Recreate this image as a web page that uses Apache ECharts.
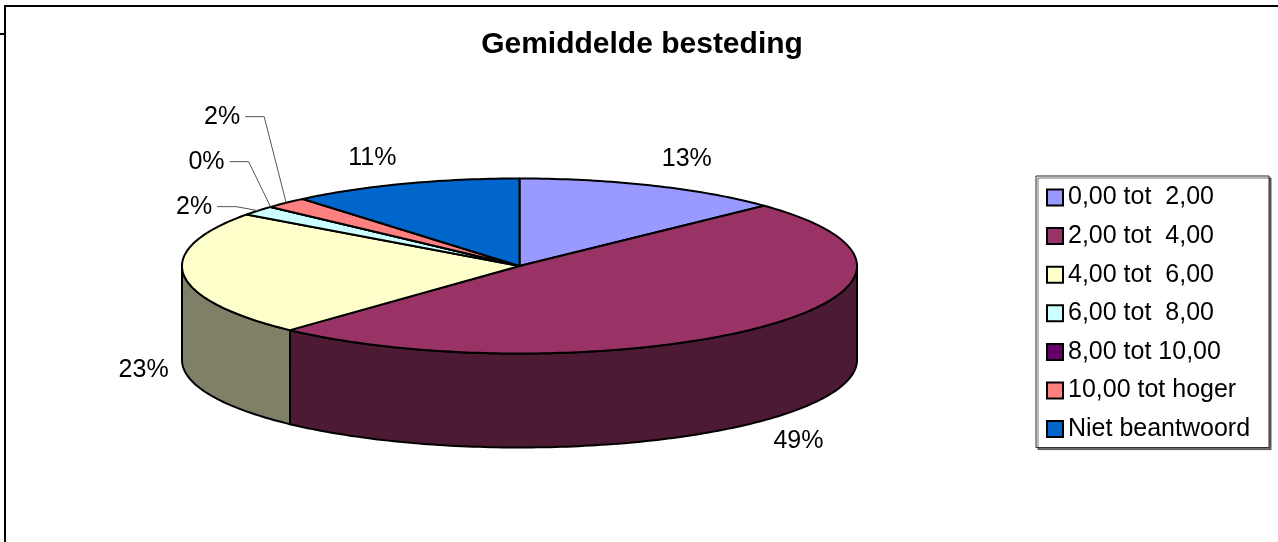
<!DOCTYPE html>
<html>
<head>
<meta charset="utf-8">
<script src="https://cdn.jsdelivr.net/npm/echarts@6/dist/echarts.min.js"></script>
<style>
  html, body { margin: 0; padding: 0; background: #fff; }
  #chart { width: 1278px; height: 542px; }
</style>
</head>
<body>
<div id="chart"></div>
<script>
// Spending classes and their share of responses (percent)
const categories = ['0,00 tot  2,00', '2,00 tot  4,00', '4,00 tot  6,00', '6,00 tot  8,00',
                    '8,00 tot 10,00', '10,00 tot hoger', 'Niet beantwoord'];
const shares = [12.9, 49.0, 23.1, 1.8, 0, 2.1, 11.1];
const topColors = ['#9999FF', '#993366', '#FFFFCC', '#CCFFFF', '#660066', '#FF8080', '#0066CC'];
const titleText = 'Gemiddelde besteding';

const FONT = '"Liberation Sans", Arial, Helvetica, sans-serif';
const LABEL_SIZE = 25;

// Tilted pie: ellipse of the top face and the height of the wall
const PIE = { cx: 519.5, cy: 266, rx: 337.5, ry: 87.5, depth: 94 };

const total = shares.reduce((a, b) => a + b, 0);
const startDeg = [];
(function () {
  let acc = 0;
  shares.forEach(v => { startDeg.push(acc / total * 360); acc += v; });
})();
// slices too thin for an outside label get a stacked label with a leader line
const smallIdx = shares.map((v, i) => (v / total * 100 < 3 ? i : -1)).filter(i => i >= 0);

function shade(hex, f) {
  const n = parseInt(hex.slice(1), 16);
  const r = Math.round(((n >> 16) & 255) * f), g = Math.round(((n >> 8) & 255) * f), b = Math.round((n & 255) * f);
  return 'rgb(' + r + ',' + g + ',' + b + ')';
}

// angle measured clockwise from 12 o'clock
function pt(deg, dy) {
  const r = deg * Math.PI / 180;
  return [PIE.cx + PIE.rx * Math.sin(r), PIE.cy - PIE.ry * Math.cos(r) + (dy || 0)];
}
function arcPts(a0, a1, dy) {
  const n = Math.max(2, Math.ceil(Math.abs(a1 - a0)) + 1);
  const out = [];
  for (let k = 0; k < n; k++) out.push(pt(a0 + (a1 - a0) * k / (n - 1), dy));
  return out;
}

const measureCtx = document.createElement('canvas').getContext('2d');
function textWidth(t) {
  measureCtx.font = LABEL_SIZE + 'px ' + FONT;
  return measureCtx.measureText(t).width;
}

function makeRender(i) {
  return function (params, api) {
    const v = api.value(0);
    const a0 = startDeg[i];
    const a1 = a0 + v / total * 360;
    const children = [];
    const stroke = { stroke: '#000', lineWidth: 2, lineJoin: 'round' };

    // front wall, only the part of the slice facing the viewer
    const s = Math.max(a0, 90), e = Math.min(a1, 270);
    if (e > s) {
      const pts = arcPts(s, e, 0).concat(arcPts(e, s, PIE.depth));
      children.push({
        type: 'polygon', z2: 1,
        shape: { points: pts },
        style: Object.assign({ fill: shade(topColors[i], 0.5) }, stroke)
      });
    }
    // top face
    children.push({
      type: 'polygon', z2: 2,
      shape: { points: [[PIE.cx, PIE.cy]].concat(arcPts(a0, a1, 0)) },
      style: Object.assign({ fill: topColors[i] }, stroke)
    });

    // percentage label
    const pctVal = v / total * 100;
    const txt = Math.round(pctVal) + '%';
    const mid = (a0 + a1) / 2;
    const font = LABEL_SIZE + 'px ' + FONT;
    const k = smallIdx.indexOf(i);
    if (k >= 0) {
      const edge = pt(mid, 0);
      const firstEdge = pt(startDeg[smallIdx[0]] + shares[smallIdx[0]] / total * 180, 0);
      const ly = firstEdge[1] - 4 - 45 * k;
      const elbowX = edge[0] - 22;
      const textRight = elbowX - 24;
      children.push({
        type: 'polyline', z2: 4,
        shape: { points: [[textRight + 5, ly], [elbowX, ly], edge] },
        style: { stroke: '#555', lineWidth: 1, fill: null }
      });
      children.push({
        type: 'text', z2: 5,
        style: { x: textRight, y: ly, text: txt, fill: '#000', font: font,
                 align: 'right', verticalAlign: 'middle' }
      });
    } else {
      const r = mid * Math.PI / 180, sn = Math.sin(r), cs = Math.cos(r);
      const edge = pt(mid, cs < 0 ? PIE.depth : 0);
      let ux = PIE.rx * sn, uy = -PIE.ry * cs;
      const L = Math.hypot(ux, uy); ux /= L; uy /= L;
      const offX = ux * (textWidth(txt) / 2 + 15);
      const offY = Math.sign(uy) * Math.min(Math.abs(uy) * 80, 26);
      children.push({
        type: 'text', z2: 5,
        style: { x: edge[0] + offX, y: edge[1] + offY, text: txt, fill: '#000',
                 font: font, align: 'center', verticalAlign: 'middle' }
      });
    }
    return { type: 'group', children: children };
  };
}

const chart = echarts.init(document.getElementById('chart'), null, { renderer: 'canvas' });
chart.setOption({
  animation: false,
  backgroundColor: '#fff',
  title: {
    text: titleText,
    left: 642, top: 30, textAlign: 'center', padding: 0,
    textStyle: { fontSize: 30, fontWeight: 'bold', fontFamily: FONT, color: '#000' }
  },
  legend: {
    orient: 'vertical',
    left: 1036, top: 176,
    padding: [9, 19, 6, 10],
    itemGap: 13.6,
    itemWidth: 16, itemHeight: 16,
    icon: 'rect',
    itemStyle: { borderColor: '#000', borderWidth: 2 },
    textStyle: { fontSize: LABEL_SIZE, fontFamily: FONT, color: '#000', lineHeight: 25 },
    borderColor: '#222', borderWidth: 1,
    backgroundColor: '#fff',
    shadowColor: 'rgba(0,0,0,0.55)', shadowOffsetX: 2, shadowOffsetY: 2, shadowBlur: 0,
    selectedMode: false,
    data: categories
  },
  graphic: [
    { type: 'line', silent: true, shape: { x1: 5, y1: 6, x2: 5, y2: 542 }, style: { stroke: '#000', lineWidth: 2 } },
    { type: 'line', silent: true, shape: { x1: 4, y1: 6, x2: 1278, y2: 6 }, style: { stroke: '#000', lineWidth: 2 } },
    { type: 'line', silent: true, shape: { x1: 0, y1: 34, x2: 5, y2: 34 }, style: { stroke: '#000', lineWidth: 2 } }
  ],
  series: categories.map((name, i) => ({
    type: 'custom',
    name: name,
    coordinateSystem: 'none',
    silent: true,
    itemStyle: { color: topColors[i] },
    data: [shares[i]],
    renderItem: makeRender(i)
  }))
});
</script>
</body>
</html>
